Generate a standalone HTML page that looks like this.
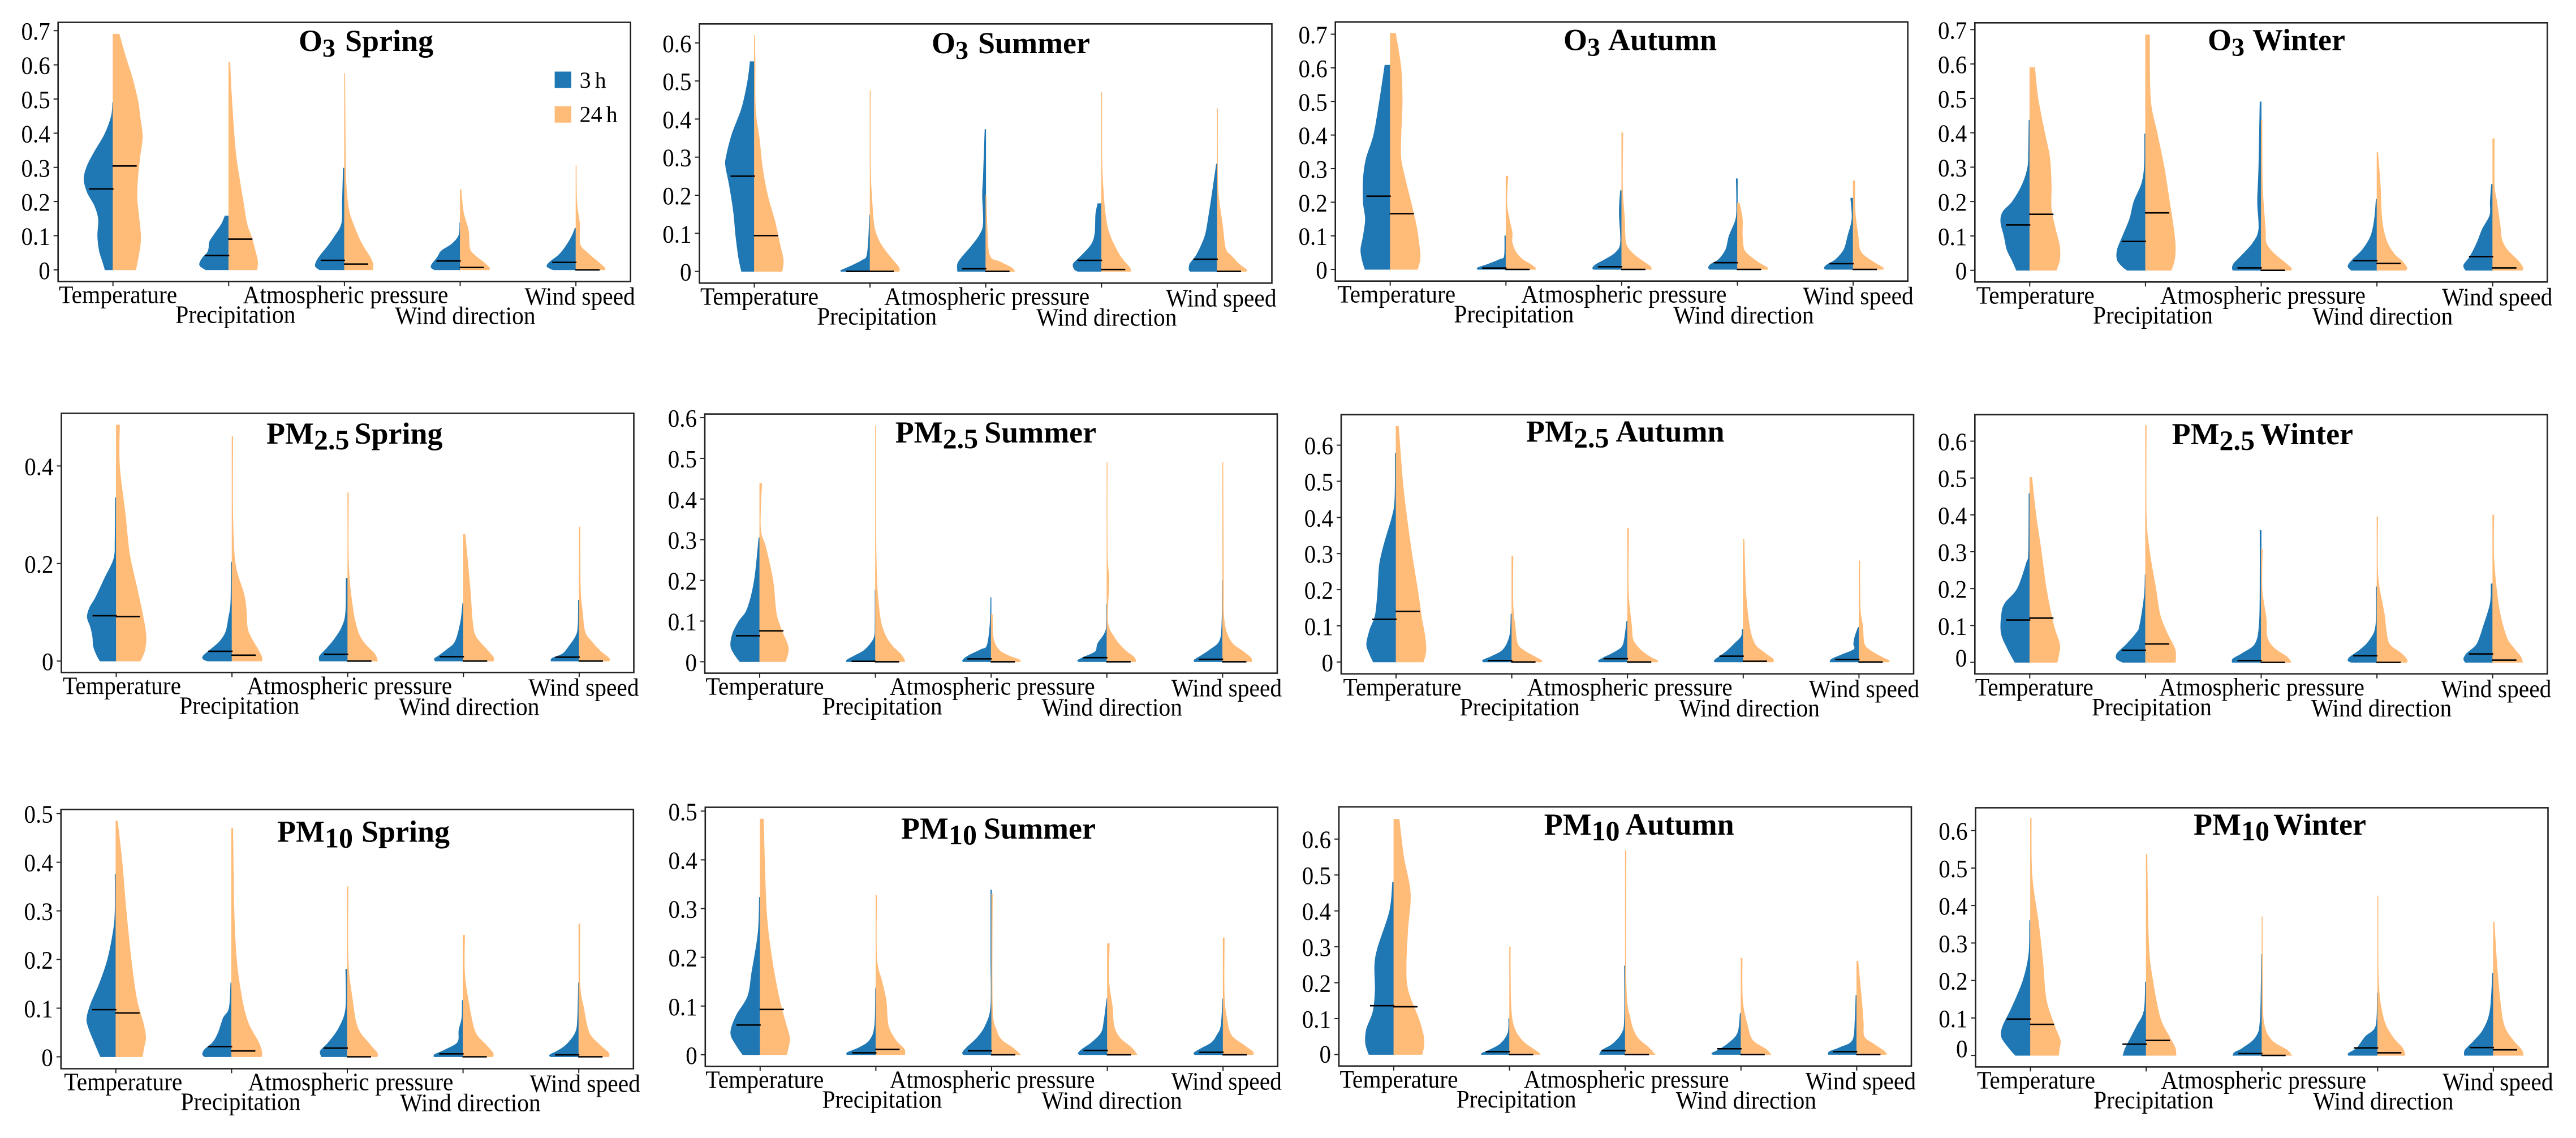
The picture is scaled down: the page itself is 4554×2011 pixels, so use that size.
<!DOCTYPE html>
<html lang="en">
<head>
<meta charset="utf-8">
<title>Split violin plots of meteorological factor importance by pollutant and season</title>
<style>
html,body{margin:0;padding:0;background:#fff;width:4554px;height:2011px;overflow:hidden}
svg{display:block}
text{font-family:"Liberation Serif",serif;fill:#000}
</style>
</head>
<body>
<svg id="chart" xmlns="http://www.w3.org/2000/svg" width="4554" height="2011" viewBox="0 0 4554 2011"></svg>
<script>
const categories = ['Temperature','Precipitation','Atmospheric pressure','Wind direction','Wind speed'];
const seriesLabels = ['3 h','24 h'];
const pollutantHeads = ['O','PM','PM'];
const pollutantSubs = ['3','2.5','10'];
const seasons = ['Spring','Summer','Autumn','Winter'];

const ticksO3Spring = ['0','0.1','0.2','0.3','0.4','0.5','0.6','0.7'];
const ticksO3Summer = ['0','0.1','0.2','0.3','0.4','0.5','0.6'];
const ticksO3Autumn = ['0','0.1','0.2','0.3','0.4','0.5','0.6','0.7'];
const ticksO3Winter = ['0','0.1','0.2','0.3','0.4','0.5','0.6','0.7'];
const ticksPm25Spring = ['0','0.2','0.4'];
const ticksPm25Summer = ['0','0.1','0.2','0.3','0.4','0.5','0.6'];
const ticksPm25Autumn = ['0','0.1','0.2','0.3','0.4','0.5','0.6'];
const ticksPm25Winter = ['0','0.1','0.2','0.3','0.4','0.5','0.6'];
const ticksPm10Spring = ['0','0.1','0.2','0.3','0.4','0.5'];
const ticksPm10Summer = ['0','0.1','0.2','0.3','0.4','0.5'];
const ticksPm10Autumn = ['0','0.1','0.2','0.3','0.4','0.5','0.6'];
const ticksPm10Winter = ['0','0.1','0.2','0.3','0.4','0.5','0.6'];

const mediansO3Spring3h = [.237,.042,.028,.026,.022];
const mediansO3Spring24h = [.304,.09,.017,.007,0];
const mediansO3Summer3h = [.25,0,.007,.029,.032];
const mediansO3Summer24h = [.094,0,0,.005,0];
const mediansO3Autumn3h = [.218,.004,.008,.02,.017];
const mediansO3Autumn24h = [.166,0,0,0,0];
const mediansO3Winter3h = [.132,.084,.007,.028,.04];
const mediansO3Winter24h = [.163,.167,0,.02,.007];
const mediansPm25Spring3h = [.093,.02,.014,.009,.008];
const mediansPm25Spring24h = [.091,.012,0,0,0];
const mediansPm25Summer3h = [.064,.001,.007,.01,.006];
const mediansPm25Summer24h = [.076,0,0,0,0];
const mediansPm25Autumn3h = [.118,.004,.009,.016,.007];
const mediansPm25Autumn24h = [.14,0,0,.002,0];
const mediansPm25Winter3h = [.115,.033,.005,.018,.023];
const mediansPm25Winter24h = [.12,.05,0,0,.006];
const mediansPm10Spring3h = [.097,.021,.018,.006,.004];
const mediansPm10Spring24h = [.09,.012,0,0,0];
const mediansPm10Summer3h = [.061,.004,.008,.009,.005];
const mediansPm10Summer24h = [.093,.011,0,0,0];
const mediansPm10Autumn3h = [.136,.008,.011,.016,.008];
const mediansPm10Autumn24h = [.133,0,0,0,0];
const mediansPm10Winter3h = [.097,.03,.005,.02,.021];
const mediansPm10Winter24h = [.083,.04,0,.007,.015];

/* each violin half: [value, density] pairs, one list per category */
const densityO3Spring3h = [
[[.49,1],[.45,4],[.397,20],[.345,45],[.305,62],[.266,70],[.227,62],[.187,44],[.148,35],[.1,37],[.056,33],[.024,25],[0,19]],
[[.158,9],[.135,17],[.109,32],[.083,46],[.063,48],[.05,52],[.037,62],[.02,70],[.01,68],[0,55]],
[[.298,3],[.2,5],[.135,7],[.096,25],[.07,40],[.043,58],[.024,68],[.01,70],[0,60]],
[[.138,1],[.102,3],[.076,20],[.056,45],[.037,55],[.017,68],[.007,70],[0,62]],
[[.122,2],[.096,11],[.063,28],[.043,42],[.024,62],[.01,70],[0,55]]];
const densityO3Spring24h = [
[[.69,15],[.626,30],[.56,47],[.495,60],[.45,65],[.39,71],[.33,65],[.272,60],[.213,58],[.16,62],[.096,67],[.05,63],[0,55]],
[[.607,3],[.527,6],[.397,13],[.331,18],[.266,26],[.2,35],[.135,44],[.096,55],[.056,64],[.024,70],[0,68]],
[[.575,1],[.397,2],[.3,3],[.233,5],[.168,12],[.102,32],[.07,45],[.037,62],[.017,69],[0,68]],
[[.235,2],[.168,8],[.115,20],[.063,23],[.043,35],[.024,55],[.007,70],[0,70]],
[[.305,1],[.2,2],[.135,9],[.076,10],[.05,28],[.027,50],[.007,69],[0,69]]];
const densityO3Summer3h = [
[[.551,10],[.5,16],[.43,30],[.36,54],[.3,68],[.275,69],[.225,60],[.155,50],[.096,45],[.037,38],[0,31]],
[[.148,1],[.08,4],[.04,8],[.03,18],[.02,35],[.01,55],[.003,70],[0,70]],
[[.373,2],[.25,6],[.2,8],[.125,6],[.096,15],[.066,35],[.037,58],[.02,68],[0,68]],
[[.178,9],[.15,14],[.1,16],[.07,25],[.04,50],[.02,68],[.005,65],[0,57]],
[[.282,2],[.2,13],[.15,20],[.1,28],[.07,38],[.04,52],[.02,66],[.005,68],[0,65]]];
const densityO3Summer24h = [
[[.62,1],[.55,2],[.45,2],[.4,5],[.35,12],[.27,20],[.2,32],[.13,50],[.07,62],[.03,70],[0,67]],
[[.475,1],[.28,1],[.2,4],[.12,10],[.08,22],[.05,40],[.03,55],[.01,70],[0,70]],
[[.2,1],[.1,4],[.04,10],[.025,35],[.01,62],[0,70]],
[[.47,1],[.3,1],[.2,5],[.13,12],[.09,22],[.05,40],[.03,52],[.01,68],[0,70]],
[[.427,1],[.28,1],[.2,3],[.12,13],[.06,20],[.04,35],[.02,52],[.005,70],[0,70]]];
const densityO3Autumn3h = [
[[.608,13],[.5,26],[.4,40],[.33,58],[.27,65],[.2,65],[.15,60],[.1,65],[.06,71],[.03,68],[0,61]],
[[.1,3],[.04,4],[.03,15],[.015,45],[.005,68],[0,68]],
[[.235,3],[.17,6],[.08,3],[.05,15],[.03,40],[.015,62],[.005,70],[0,68]],
[[.27,3],[.2,2],[.15,4],[.1,20],[.06,28],[.03,45],[.015,65],[.005,70],[0,66]],
[[.212,6],[.15,3],[.1,13],[.06,22],[.03,42],[.015,62],[.005,70],[0,66]]];
const densityO3Autumn24h = [
[[.703,13],[.6,26],[.5,29],[.4,26],[.33,26],[.27,36],[.2,50],[.13,63],[.06,71],[.03,72],[0,66]],
[[.278,5],[.2,2],[.15,8],[.11,15],[.08,15],[.05,25],[.03,40],[.015,60],[.003,72],[0,72]],
[[.407,3],[.25,2],[.15,7],[.08,10],[.05,25],[.03,45],[.01,68],[0,72]],
[[.197,5],[.15,12],[.1,12],[.06,16],[.04,30],[.02,52],[.005,72],[0,72]],
[[.264,4],[.17,5],[.1,12],[.06,16],[.04,28],[.02,52],[.005,72],[0,72]]];
const densityO3Winter3h = [
[[.437,2],[.35,3],[.3,5],[.25,18],[.2,42],[.17,65],[.14,70],[.1,62],[.06,55],[.03,43],[0,32]],
[[.397,2],[.3,3],[.25,10],[.2,28],[.15,38],[.1,55],[.06,68],[.03,68],[.01,55],[0,44]],
[[.49,3],[.3,6],[.2,9],[.12,6],[.08,20],[.04,50],[.02,66],[.007,70],[0,68]],
[[.207,2],[.15,6],[.1,15],[.06,35],[.03,60],[.012,70],[0,62]],
[[.25,3],[.2,6],[.16,7],[.12,25],[.08,38],[.04,55],[.015,70],[0,65]]];
const densityO3Winter24h = [
[[.59,12],[.5,20],[.4,36],[.33,48],[.25,52],[.18,52],[.12,62],[.07,72],[.03,72],[0,64]],
[[.685,10],[.5,12],[.4,28],[.3,45],[.2,58],[.12,68],[.07,72],[.03,70],[0,62]],
[[.437,2],[.25,3],[.12,10],[.08,12],[.05,30],[.025,55],[.007,72],[0,72]],
[[.343,2],[.25,8],[.15,12],[.09,22],[.05,40],[.025,62],[.008,72],[0,70]],
[[.383,4],[.25,4],[.2,10],[.13,18],[.09,22],[.06,35],[.03,60],[.01,72],[0,72]]];
const densityPm25Spring3h = [
[[.335,2],[.25,3],[.21,6],[.17,28],[.13,50],[.11,64],[.09,70],[.07,62],[.05,57],[.03,55],[.012,47],[0,39]],
[[.203,2],[.12,3],[.09,8],[.06,15],[.04,30],[.025,50],[.01,70],[.003,68],[0,58]],
[[.17,4],[.1,5],[.07,14],[.045,32],[.025,52],[.01,68],[0,68]],
[[.118,2],[.08,7],[.04,20],[.025,38],[.012,58],[.005,70],[0,68]],
[[.125,2],[.07,3],[.05,9],[.03,25],[.015,40],[.006,65],[0,68]]];
const densityPm25Spring24h = [
[[.484,8],[.4,8],[.3,22],[.22,32],[.15,50],[.09,65],[.05,72],[.02,68],[0,58]],
[[.46,2],[.3,2],[.2,8],[.14,28],[.11,34],[.07,37],[.05,45],[.025,62],[.008,72],[0,72]],
[[.345,2],[.2,2],[.11,12],[.06,25],[.035,42],[.015,65],[0,72]],
[[.26,4],[.15,16],[.08,22],[.05,30],[.025,55],[.008,72],[0,72]],
[[.275,2],[.15,3],[.1,8],[.06,14],[.04,30],[.02,52],[.006,72],[0,72]]];
const densityPm25Summer3h = [
[[.305,2],[.2,13],[.13,30],[.1,50],[.07,65],[.04,70],[.02,62],[0,48]],
[[.176,1],[.1,1],[.06,3],[.03,25],[.015,50],[.005,68],[0,70]],
[[.158,1],[.09,3],[.04,10],[.03,25],[.015,55],[.005,68],[0,68]],
[[.142,1],[.08,2],[.045,22],[.025,28],[.012,55],[.004,70],[0,68]],
[[.2,1],[.09,2],[.05,8],[.03,30],[.015,52],[.005,68],[0,68]]];
const densityPm25Summer24h = [
[[.438,5],[.33,2],[.28,15],[.2,32],[.12,40],[.08,52],[.04,68],[.02,68],[0,62]],
[[.58,1],[.25,2],[.12,10],[.07,22],[.04,40],[.02,60],[.005,70],[0,70]],
[[.116,3],[.06,5],[.03,18],[.015,42],[.005,68],[0,70]],
[[.49,1],[.27,1],[.2,5],[.1,2],[.06,18],[.03,42],[.012,65],[0,70]],
[[.49,1],[.2,2],[.1,4],[.05,20],[.025,50],[.01,68],[0,70]]];
const densityPm25Autumn3h = [
[[.578,2],[.45,3],[.4,10],[.33,28],[.27,40],[.2,44],[.13,50],[.09,63],[.05,71],[.025,65],[0,55]],
[[.133,2],[.08,4],[.05,12],[.03,25],[.015,50],[.005,70],[0,68]],
[[.113,2],[.06,8],[.04,15],[.025,35],[.012,58],[.004,70],[0,68]],
[[.09,3],[.07,5],[.05,22],[.03,40],[.015,58],[.004,70],[0,68]],
[[.096,2],[.07,10],[.05,13],[.035,12],[.02,42],[.008,66],[0,70]]];
const densityPm25Autumn24h = [
[[.652,6],[.5,16],[.4,26],[.3,38],[.2,52],[.12,62],[.07,70],[.03,72],[0,66]],
[[.293,3],[.16,3],[.1,8],[.05,14],[.03,32],[.015,55],[.004,72],[0,72]],
[[.37,3],[.2,2],[.1,10],[.06,14],[.03,35],[.012,58],[.004,72],[0,72]],
[[.34,2],[.2,6],[.1,15],[.05,28],[.025,52],[.008,72],[0,72]],
[[.28,2],[.15,3],[.1,9],[.05,13],[.03,30],[.012,58],[.004,72],[0,72]]];
const densityPm25Winter3h = [
[[.458,2],[.3,3],[.27,8],[.2,30],[.16,60],[.13,68],[.08,69],[.04,55],[0,36]],
[[.238,1],[.18,3],[.1,14],[.08,22],[.05,45],[.025,68],[.01,70],[0,55]],
[[.358,3],[.2,3],[.1,5],[.05,15],[.025,45],[.01,68],[0,70]],
[[.205,2],[.1,3],[.06,18],[.035,40],[.015,65],[.005,70],[0,62]],
[[.213,4],[.16,6],[.1,22],[.05,38],[.025,62],[.01,70],[0,66]]];
const densityPm25Winter24h = [
[[.502,5],[.4,15],[.3,28],[.2,40],[.1,58],[.05,72],[.02,70],[0,66]],
[[.643,2],[.4,2],[.3,10],[.2,25],[.13,35],[.08,52],[.04,70],[.02,73],[0,72]],
[[.307,3],[.2,2],[.12,12],[.07,14],[.04,30],[.015,62],[0,72]],
[[.395,2],[.24,2],[.13,18],[.09,22],[.05,30],[.025,58],[.008,72],[0,72]],
[[.4,3],[.28,3],[.15,15],[.07,33],[.04,50],[.015,68],[0,72]]];
const densityPm10Spring3h = [
[[.375,2],[.3,2],[.26,6],[.2,20],[.15,40],[.11,60],[.08,70],[.06,66],[.03,52],[0,37]],
[[.152,2],[.1,6],[.08,20],[.05,32],[.03,45],[.015,65],[.005,70],[0,65]],
[[.18,4],[.1,4],[.06,20],[.03,45],[.012,65],[0,62]],
[[.116,2],[.08,3],[.055,10],[.03,13],[.015,42],[.005,68],[0,70]],
[[.152,1],[.08,3],[.05,8],[.025,30],[.012,52],[.004,70],[0,68]]];
const densityPm10Spring24h = [
[[.485,4],[.4,15],[.3,25],[.2,37],[.12,50],[.07,66],[.04,72],[.02,68],[0,64]],
[[.47,3],[.3,6],[.2,12],[.12,25],[.07,40],[.03,65],[.01,73],[0,72]],
[[.35,2],[.2,2],[.12,12],[.06,25],[.025,55],[.008,72],[0,72]],
[[.25,4],[.17,4],[.1,16],[.05,30],[.025,55],[.008,72],[0,72]],
[[.273,3],[.15,3],[.1,12],[.05,25],[.025,50],[.008,72],[0,72]]];
const densityPm10Summer3h = [
[[.323,2],[.25,5],[.17,20],[.12,30],[.08,58],[.045,71],[.02,58],[0,42]],
[[.137,1],[.06,3],[.03,15],[.015,40],[.005,68],[0,70]],
[[.338,2],[.2,2],[.1,2],[.06,15],[.035,35],[.015,60],[.005,70],[0,68]],
[[.116,1],[.07,8],[.045,15],[.025,38],[.012,60],[.004,70],[0,68]],
[[.115,1],[.06,5],[.04,15],[.025,28],[.012,55],[.004,70],[0,68]]];
const densityPm10Summer24h = [
[[.484,8],[.3,15],[.2,28],[.12,45],[.07,60],[.035,71],[.015,68],[0,64]],
[[.327,2],[.2,2],[.15,15],[.11,25],[.06,30],[.03,48],[.012,68],[0,70]],
[[.33,2],[.1,2],[.05,12],[.03,25],[.015,50],[0,70]],
[[.228,5],[.15,4],[.1,12],[.06,16],[.035,30],[.015,58],[0,72]],
[[.24,3],[.12,3],[.07,10],[.04,20],[.02,50],[.006,72],[0,72]]];
const densityPm10Autumn3h = [
[[.48,3],[.4,10],[.3,38],[.25,46],[.18,45],[.12,50],[.07,66],[.03,68],[0,60]],
[[.1,2],[.06,4],[.03,22],[.012,50],[.004,66],[0,68]],
[[.247,2],[.1,2],[.06,8],[.03,30],[.012,56],[0,62]],
[[.115,2],[.06,8],[.03,32],[.012,56],[.004,70],[0,68]],
[[.165,2],[.1,4],[.04,10],[.02,40],[.008,66],[0,68]]];
const densityPm10Autumn24h = [
[[.655,13],[.55,24],[.45,40],[.35,34],[.25,30],[.18,34],[.1,60],[.05,72],[.02,72],[0,68]],
[[.3,2],[.15,3],[.08,10],[.04,30],[.015,58],[.004,72],[0,72]],
[[.568,2],[.2,2],[.1,12],[.05,28],[.02,56],[0,72]],
[[.268,3],[.15,4],[.08,16],[.04,28],[.015,60],[0,72]],
[[.26,3],[.15,12],[.09,16],[.05,18],[.03,40],[.01,66],[0,72]]];
const densityPm10Winter3h = [
[[.36,2],[.27,4],[.2,18],[.13,44],[.08,66],[.05,70],[.02,52],[0,36]],
[[.196,2],[.12,5],[.08,22],[.05,36],[.02,50],[0,56]],
[[.27,1],[.1,4],[.05,14],[.02,46],[.008,66],[0,70]],
[[.166,1],[.08,4],[.05,30],[.02,50],[.006,70],[0,70]],
[[.22,2],[.12,8],[.07,24],[.04,46],[.015,68],[0,70]]];
const densityPm10Winter24h = [
[[.633,2],[.48,4],[.35,20],[.25,30],[.15,38],[.08,58],[.04,72],[.02,70],[0,68]],
[[.537,2],[.3,6],[.2,16],[.1,34],[.05,56],[.02,70],[0,72]],
[[.37,1],[.15,2],[.08,6],[.04,24],[.015,60],[0,72]],
[[.426,1],[.2,2],[.1,14],[.05,36],[.02,60],[0,66]],
[[.356,2],[.25,8],[.15,16],[.08,26],[.04,48],[.015,68],[0,72]]];

const panels = [
 {p:0,s:0,ticks:ticksO3Spring,m3:mediansO3Spring3h,m24:mediansO3Spring24h,d3:densityO3Spring3h,d24:densityO3Spring24h},
 {p:0,s:1,ticks:ticksO3Summer,m3:mediansO3Summer3h,m24:mediansO3Summer24h,d3:densityO3Summer3h,d24:densityO3Summer24h},
 {p:0,s:2,ticks:ticksO3Autumn,m3:mediansO3Autumn3h,m24:mediansO3Autumn24h,d3:densityO3Autumn3h,d24:densityO3Autumn24h},
 {p:0,s:3,ticks:ticksO3Winter,m3:mediansO3Winter3h,m24:mediansO3Winter24h,d3:densityO3Winter3h,d24:densityO3Winter24h},
 {p:1,s:0,ticks:ticksPm25Spring,m3:mediansPm25Spring3h,m24:mediansPm25Spring24h,d3:densityPm25Spring3h,d24:densityPm25Spring24h},
 {p:1,s:1,ticks:ticksPm25Summer,m3:mediansPm25Summer3h,m24:mediansPm25Summer24h,d3:densityPm25Summer3h,d24:densityPm25Summer24h},
 {p:1,s:2,ticks:ticksPm25Autumn,m3:mediansPm25Autumn3h,m24:mediansPm25Autumn24h,d3:densityPm25Autumn3h,d24:densityPm25Autumn24h},
 {p:1,s:3,ticks:ticksPm25Winter,m3:mediansPm25Winter3h,m24:mediansPm25Winter24h,d3:densityPm25Winter3h,d24:densityPm25Winter24h},
 {p:2,s:0,ticks:ticksPm10Spring,m3:mediansPm10Spring3h,m24:mediansPm10Spring24h,d3:densityPm10Spring3h,d24:densityPm10Spring24h},
 {p:2,s:1,ticks:ticksPm10Summer,m3:mediansPm10Summer3h,m24:mediansPm10Summer24h,d3:densityPm10Summer3h,d24:densityPm10Summer24h},
 {p:2,s:2,ticks:ticksPm10Autumn,m3:mediansPm10Autumn3h,m24:mediansPm10Autumn24h,d3:densityPm10Autumn3h,d24:densityPm10Autumn24h},
 {p:2,s:3,ticks:ticksPm10Winter,m3:mediansPm10Winter3h,m24:mediansPm10Winter24h,d3:densityPm10Winter3h,d24:densityPm10Winter24h}
];

/* axis geometry for each panel, kept apart from the data */
const frames = [
 {l:102.7,t:39.5,zero:476.9,unit:603.8,lab:0,tx:528,ty:90,gap:17,zeroLift:0},
 {l:1236.5,t:42.3,zero:479.6,unit:673,lab:0,tx:1647,ty:94,gap:17,zeroLift:0},
 {l:2360.7,t:38.7,zero:476.1,unit:593.7,lab:2,tx:2764,ty:88.5,gap:14,zeroLift:0},
 {l:3491.3,t:40.3,zero:477.7,unit:607.7,lab:1,tx:3903,ty:88.5,gap:14,zeroLift:0},
 {l:108.5,t:730.4,zero:1168.2,unit:862,lab:1,tx:471,ty:784,gap:9,zeroLift:0},
 {l:1246,t:731.6,zero:1169.4,unit:718.9,lab:0,tx:1582.7,ty:781.8,gap:11,zeroLift:0},
 {l:2371,t:732.8,zero:1169.8,unit:638.6,lab:2,tx:2698,ty:780.6,gap:12,zeroLift:0},
 {l:3491.3,t:732.8,zero:1170.5,unit:651.6,lab:-1,tx:3839.6,ty:785,gap:10,zeroLift:9},
 {l:107.8,t:1430.5,zero:1867.5,unit:859.6,lab:4,tx:490,ty:1487.4,gap:15,zeroLift:0},
 {l:1246.8,t:1426.6,zero:1863.9,unit:861.2,lab:-1,tx:1593,ty:1482,gap:12,zeroLift:0},
 {l:2367,t:1425.8,zero:1863.5,unit:634.6,lab:0,tx:2729.6,ty:1475,gap:10,zeroLift:2},
 {l:3492.5,t:1427.4,zero:1865.1,unit:662.3,lab:1,tx:3878,ty:1475,gap:7,zeroLift:13}
];

const FRAME_W = 1012, FRAME_H = 458, FIRST_CAT = 97, CAT_STEP = 204.6;
const DENSITY_PX = 0.7334, MEDIAN_LEN = 42;
const BLUE = '#1f77b4', ORANGE = '#ffbb78', INK = '#222';
const labelOffsets = [{dx:9,dy:38},{dx:12,dy:73},{dx:2,dy:38},{dx:9,dy:75},{dx:7,dy:41}];
const svg = document.getElementById('chart');
const NS = 'http://www.w3.org/2000/svg';

function make(tag, attrs, parent, txt){
  const e = document.createElementNS(NS, tag);
  for(const k in attrs) e.setAttribute(k, attrs[k]);
  if(txt !== undefined) e.textContent = txt;
  parent.appendChild(e);
  return e;
}
function xCat(f,i){ return f.l + FIRST_CAT + i*CAT_STEP; }
function yVal(f,v){ return f.zero - v*f.unit; }
function xWidth(d){ return d*DENSITY_PX; }

function halfPath(f, center, sign, pts){
  const P = pts.map(p => [center + sign*xWidth(p[1]), yVal(f,p[0])]);
  let d = 'M' + center.toFixed(1) + ' ' + P[0][1].toFixed(1) + 'L' + P[0][0].toFixed(1) + ' ' + P[0][1].toFixed(1);
  const clampX = x => sign > 0 ? Math.max(center, x) : Math.min(center, x);
  for(let i=0;i<P.length-1;i++){
    const p0 = P[Math.max(0,i-1)], p1 = P[i], p2 = P[i+1], p3 = P[Math.min(P.length-1,i+2)];
    const c1x = clampX(p1[0] + (p2[0]-p0[0])/6), c1y = p1[1] + (p2[1]-p0[1])/6;
    const c2x = clampX(p2[0] - (p3[0]-p1[0])/6), c2y = p2[1] - (p3[1]-p1[1])/6;
    d += 'C' + c1x.toFixed(1) + ' ' + c1y.toFixed(1) + ' ' + c2x.toFixed(1) + ' ' + c2y.toFixed(1) + ' ' + p2[0].toFixed(1) + ' ' + p2[1].toFixed(1);
  }
  return d + 'L' + center.toFixed(1) + ' ' + P[P.length-1][1].toFixed(1) + 'Z';
}

panels.forEach((pn, idx) => {
  const f = frames[idx];
  const key = pollutantHeads[pn.p].toLowerCase() + pollutantSubs[pn.p].replace('.','') + '-' + seasons[pn.s].toLowerCase();
  const g = make('g', {}, svg);
  
  

  const frame = make('rect', {x:f.l,y:f.t,width:FRAME_W,height:FRAME_H,fill:'#fff',stroke:INK,'stroke-width':2.6}, g);
  
  

  pn.ticks.forEach(t => {
    const y = yVal(f, parseFloat(t));
    const tk = make('line', {x1:f.l-8,x2:f.l,y1:y,y2:y,stroke:INK,'stroke-width':2}, g);
    
    
    const lift = parseFloat(t) === 0 ? f.zeroLift : 0;
    const lb = make('text', {'text-anchor':'end','font-size':41,transform:'translate(' + (f.l-14) + ' ' + (y+16-lift) + ') scale(1 1.08)'}, g, t);
    
    
  });

  categories.forEach((c,i) => {
    const cx = xCat(f,i), bottom = f.t + FRAME_H;
    const tk = make('line', {x1:cx,x2:cx,y1:bottom,y2:bottom+8,stroke:INK,'stroke-width':2}, g);
    
    
    const off = labelOffsets[i];
    const lb = make('text', {'text-anchor':'middle','font-size':41.5,transform:'translate(' + (cx+off.dx+f.lab) + ' ' + (bottom+off.dy) + ') scale(1 1.07)'}, g, c);
    
    

    const v3 = make('path', {d:halfPath(f,cx,-1,pn.d3[i]),fill:BLUE,stroke:BLUE,'stroke-width':0.8}, g);
    
    
    const v24 = make('path', {d:halfPath(f,cx,1,pn.d24[i]),fill:ORANGE,stroke:ORANGE,'stroke-width':0.8}, g);
    
    
  });

  categories.forEach((c,i) => {
    const cx = xCat(f,i);
    const y3 = yVal(f, pn.m3[i]);
    const m3 = make('line', {x1:cx-MEDIAN_LEN,x2:cx+1,y1:y3,y2:y3,stroke:'#000','stroke-width':2.6}, g);
    
    
    const y24 = yVal(f, pn.m24[i]);
    const m24 = make('line', {x1:cx-1,x2:cx+MEDIAN_LEN,y1:y24,y2:y24,stroke:'#000','stroke-width':2.6}, g);
    
    
  });

  const title = make('text', {x:f.tx,y:f.ty,'font-size':54,'font-weight':'bold'}, g);
  
  
  make('tspan', {}, title, pollutantHeads[pn.p]);
  make('tspan', {dy:10,'font-size':pn.p === 0 ? 46 : 50}, title, pollutantSubs[pn.p]);
  make('tspan', {dy:-10,dx:f.gap}, title, seasons[pn.s]);
});

const legend = make('g', {}, svg);


const legendSwatches = [BLUE, ORANGE];
const legendRows = [{y:126.5,base:155},{y:187.7,base:215.4}];
seriesLabels.forEach((s,i) => {
  const sw = make('rect', {x:980.6,y:legendRows[i].y,width:29.4,height:29,fill:legendSwatches[i]}, legend);
  
  
  const t = make('text', {x:1024.6,y:legendRows[i].base,'font-size':40,'word-spacing':'-3px'}, legend, s);
  
  
});
</script>
</body>
</html>
